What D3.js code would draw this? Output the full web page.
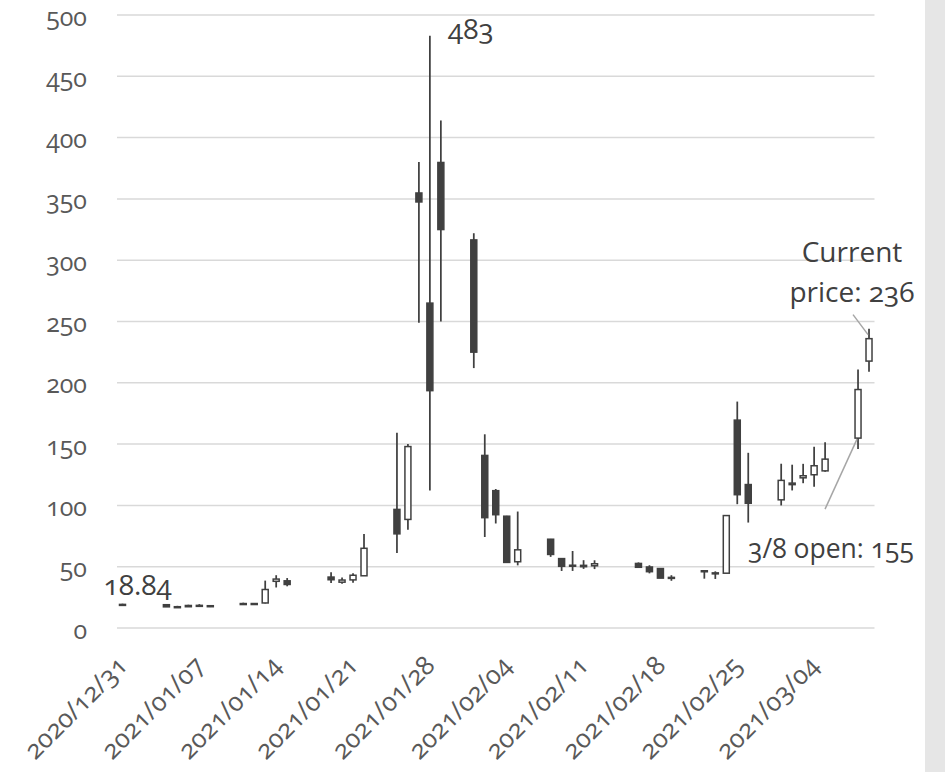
<!DOCTYPE html>
<html>
<head>
<meta charset="utf-8">
<script src="https://cdn.jsdelivr.net/npm/d3@7"></script>
<style>
  body { margin: 0; background: #fff; }
  svg { display: block; font-family: 'Open Sans', sans-serif; font-variant-numeric: oldstyle-nums; }
  .grid line { stroke: #d9d9d9; stroke-width: 1.5; }
  .tick text { fill: #595959; }
</style>
</head>
<body>
<div id="chart"></div>
<script>
const dates = [
  '2020-12-31', '2021-01-04', '2021-01-05', '2021-01-06', '2021-01-07', '2021-01-08',
  '2021-01-11', '2021-01-12', '2021-01-13', '2021-01-14', '2021-01-15',
  '2021-01-19', '2021-01-20', '2021-01-21', '2021-01-22',
  '2021-01-25', '2021-01-26', '2021-01-27', '2021-01-28', '2021-01-29',
  '2021-02-01', '2021-02-02', '2021-02-03', '2021-02-04', '2021-02-05',
  '2021-02-08', '2021-02-09', '2021-02-10', '2021-02-11', '2021-02-12',
  '2021-02-16', '2021-02-17', '2021-02-18', '2021-02-19',
  '2021-02-22', '2021-02-23', '2021-02-24', '2021-02-25', '2021-02-26',
  '2021-03-01', '2021-03-02', '2021-03-03', '2021-03-04', '2021-03-05',
  '2021-03-08', '2021-03-09'
];
const open = [
  19.25, 19.00, 17.35, 17.34, 18.47, 18.18,
  19.41, 19.96, 20.42, 38.09, 38.49,
  41.55, 37.37, 39.23, 42.59,
  96.73, 88.56, 354.83, 265.00, 379.71,
  316.56, 140.76, 112.01, 91.19, 54.04,
  72.41, 56.61, 50.77, 50.01, 50.75,
  52.66, 49.77, 48.49, 41.28,
  46.69, 44.97, 44.70, 169.56, 117.00,
  104.54, 116.93, 122.50, 125.00, 128.17,
  154.89, 217.71
];
const high = [
  19.80, 19.10, 18.08, 18.98, 19.45, 18.30,
  20.65, 20.40, 38.65, 43.06, 40.75,
  45.52, 41.19, 44.75, 76.76,
  159.18, 150.00, 380.00, 483.00, 413.98,
  322.00, 158.00, 113.40, 91.50, 95.00,
  72.66, 57.00, 62.83, 55.32, 55.24,
  53.50, 51.19, 48.87, 43.06,
  46.70, 46.23, 91.71, 184.68, 142.90,
  133.99, 133.20, 133.90, 147.87, 151.53,
  210.87, 244.00
];
const low = [
  18.80, 17.15, 17.23, 17.33, 18.02, 17.08,
  19.01, 19.32, 20.03, 33.05, 34.01,
  36.64, 36.06, 37.00, 42.32,
  61.13, 80.20, 249.00, 112.25, 250.00,
  212.00, 74.22, 85.25, 53.33, 51.09,
  58.02, 46.52, 46.55, 48.22, 48.05,
  49.04, 44.56, 40.65, 38.50,
  40.23, 40.00, 44.70, 101.00, 86.00,
  99.97, 112.20, 118.10, 115.30, 127.50,
  146.10, 209.00
];
const close = [
  18.84, 17.25, 17.37, 18.36, 18.08, 17.69,
  19.94, 19.95, 31.40, 39.91, 35.50,
  39.36, 39.12, 43.03, 65.01,
  76.79, 147.98, 347.51, 193.60, 325.00,
  225.00, 90.00, 92.41, 53.50, 63.77,
  60.00, 50.31, 51.20, 51.10, 52.40,
  49.51, 45.94, 40.69, 40.59,
  46.00, 44.97, 91.71, 108.73, 101.74,
  120.40, 118.18, 124.18, 132.35, 137.74,
  194.50, 236.00
];
const xTickLabels = ['2020-12-31', '2021-01-07', '2021-01-14', '2021-01-21', '2021-01-28',
  '2021-02-04', '2021-02-11', '2021-02-18', '2021-02-25', '2021-03-04'];
const yTicks = [0, 50, 100, 150, 200, 250, 300, 350, 400, 450, 500];

const width = 945, height = 772;
const margin = { left: 117, right: 70.5, top: 15, bottom: 144 };
const parse = d3.utcParse('%Y-%m-%d');

const data = dates.map((d, i) => ({
  date: parse(d), open: open[i], high: high[i], low: low[i], close: close[i]
}));

const svg = d3.select('#chart').append('svg')
  .attr('width', width)
  .attr('height', height);

svg.append('rect').attr('width', width).attr('height', height).attr('fill', '#fff');
svg.append('rect')
  .attr('x', 925).attr('y', 0)
  .attr('width', 20).attr('height', height)
  .attr('fill', '#e6e6e6');

// one slot per calendar day, centred on the date
const x = d3.scaleUtc()
  .domain([d3.utcHour.offset(parse(dates[0]), -12), d3.utcHour.offset(parse(dates[dates.length - 1]), 12)])
  .range([margin.left, width - margin.right]);

const y = d3.scaleLinear()
  .domain([0, 500])
  .range([height - margin.bottom, margin.top]);

// gridlines
svg.append('g')
  .attr('class', 'grid')
  .selectAll('line')
  .data(yTicks)
  .enter()
  .append('line')
  .attr('x1', x.range()[0]).attr('x2', x.range()[1])
  .attr('y1', d => y(d)).attr('y2', d => y(d));

// y axis
const yAxis = d3.axisLeft(y).tickValues(yTicks).tickSize(0).tickPadding(30);
svg.append('g')
  .attr('class', 'y axis')
  .attr('transform', `translate(${margin.left},0)`)
  .call(yAxis)
  .call(g => g.select('.domain').remove())
  .selectAll('text')
  .attr('font-size', 25)
  .attr('dy', '0.4em')
  .attr('font-family', "'Open Sans', sans-serif");

// x axis, labels turned 45deg and ending under the tick
const xAxis = d3.axisBottom(x)
  .tickValues(xTickLabels.map(parse))
  .tickFormat(d3.utcFormat('%Y/%m/%d'))
  .tickSize(0);
svg.append('g')
  .attr('class', 'x axis')
  .attr('transform', `translate(0,${y(0)})`)
  .call(xAxis)
  .call(g => g.select('.domain').remove())
  .selectAll('text')
  .attr('font-size', 26)
  .attr('font-family', "'Open Sans', sans-serif")
  .attr('text-anchor', 'end')
  .attr('dy', null)
  .attr('y', null)
  .attr('transform', 'translate(6,39) rotate(-45)');

// candles
const candles = svg.append('g').attr('class', 'candles');
const bodyW = 6;

candles.selectAll('.wick')
  .data(data)
  .enter()
  .append('line')
  .attr('class', 'wick')
  .attr('x1', d => x(d.date)).attr('x2', d => x(d.date))
  .attr('y1', d => y(d.high)).attr('y2', d => y(d.low))
  .attr('stroke', '#404040')
  .attr('stroke-width', 1.75);

candles.selectAll('.body')
  .data(data)
  .enter()
  .append('rect')
  .attr('class', 'body')
  .attr('x', d => x(d.date) - bodyW / 2)
  .attr('y', d => y(Math.max(d.open, d.close)))
  .attr('width', bodyW)
  .attr('height', d => Math.max(1, Math.abs(y(d.open) - y(d.close))))
  .attr('fill', d => d.close < d.open ? '#404040' : '#fff')
  .attr('stroke', '#404040')
  .attr('stroke-width', 1.5);

// annotations
const first = data[0], peak = data[18], mar8 = data[44], last = data[data.length - 1];
const note = svg.append('g')
  .attr('class', 'notes')
  .attr('fill', '#404040')
  .attr('font-size', 28);

note.append('text')
  .attr('x', x(first.date) - 19).attr('y', y(first.close) - 10)
  .text(first.close.toFixed(2));

note.append('text')
  .attr('x', x(peak.date) + 18).attr('y', y(peak.high) + 3)
  .text(peak.high);

note.append('line')
  .attr('x1', x(last.date) - 16).attr('y1', y(last.close) - 24)
  .attr('x2', x(last.date) - 1).attr('y2', y(last.close) - 4)
  .attr('stroke', '#a6a6a6').attr('stroke-width', 1.5);
note.append('text')
  .attr('x', x(last.date) - 17).attr('y', y(last.close) - 77)
  .attr('text-anchor', 'middle')
  .text('Current');
note.append('text')
  .attr('x', x(last.date) - 17).attr('y', y(last.close) - 37)
  .attr('text-anchor', 'middle')
  .text('price: ' + last.close);

note.append('line')
  .attr('x1', x(mar8.date) - 33).attr('y1', y(mar8.open) + 71)
  .attr('x2', x(mar8.date) - 1).attr('y2', y(mar8.open) + 1)
  .attr('stroke', '#a6a6a6').attr('stroke-width', 1.5);
note.append('text')
  .attr('x', x(mar8.date) - 27).attr('y', y(mar8.open) + 120)
  .attr('text-anchor', 'middle')
  .attr('font-size', 26.5)
  .text('3/8 open: ' + Math.round(mar8.open));
</script>
</body>
</html>
